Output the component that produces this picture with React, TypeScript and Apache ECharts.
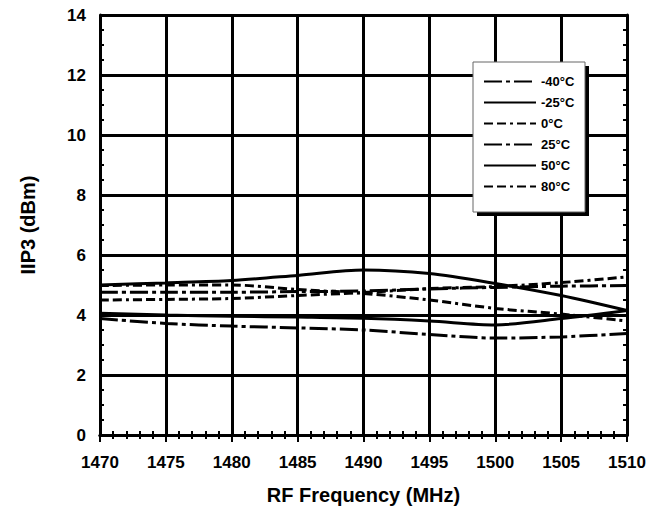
import React, { useEffect, useRef } from "react";
import * as echarts from "echarts";

const freqs = [1470, 1475, 1480, 1485, 1490, 1495, 1500, 1505, 1510];
const seriesNames = ["-40°C", "-25°C", "0°C", "25°C", "50°C", "80°C"];
const m40 = [3.88, 3.72, 3.63, 3.57, 3.5, 3.35, 3.23, 3.27, 3.38];
const m25 = [4.06, 4.0, 3.96, 3.93, 3.89, 3.8, 3.67, 3.88, 4.15];
const p0 = [4.98, 5.0, 5.0, 4.85, 4.72, 4.5, 4.22, 4.03, 3.8];
const p25 = [4.76, 4.76, 4.76, 4.78, 4.8, 4.87, 4.92, 4.96, 4.98];
const p50 = [5.0, 5.07, 5.15, 5.32, 5.5, 5.38, 5.05, 4.65, 4.15];
const p80 = [4.5, 4.52, 4.55, 4.65, 4.75, 4.88, 4.95, 5.08, 5.27];
const yTicks = [0, 2, 4, 6, 8, 10, 12, 14];

const dashDot = [18, 4, 4, 4];
const dashDots = [9, 4, 9, 4, 3, 4];

export default function App() {
  const ref = useRef<HTMLDivElement>(null);
  useEffect(() => {
    if (!ref.current) return;
    const chart = echarts.init(ref.current, null, { renderer: "svg" });
    const font = "'Liberation Sans', Arial, sans-serif";
    const values = [m40, m25, p0, p25, p50, p80];
    const types: any[] = [dashDot, "solid", dashDots, dashDot, "solid", dashDots];
    const series = values.map((v, i) => ({
      name: seriesNames[i],
      type: "line",
      data: freqs.map((f, j) => [f, v[j]]),
      smooth: 0.3,
      showSymbol: false,
      symbol: "none",
      lineStyle: { color: "#000", width: 3, type: types[i] },
      itemStyle: { color: "#000" },
      z: 3,
    }));
    const tickCommon = {
      show: true,
      inside: true,
      length: 7,
      lineStyle: { color: "#000", width: 2 },
    };
    const minorCommon = {
      show: true,
      length: 4,
      lineStyle: { color: "#000", width: 2 },
    };
    chart.setOption({
      animation: false,
      backgroundColor: "#fff",
      grid: { left: 100, right: 39, top: 15, bottom: 76 },
      xAxis: [
        {
          type: "value",
          min: 1470,
          max: 1510,
          interval: 5,
          name: "RF Frequency (MHz)",
          nameLocation: "middle",
          nameGap: 50,
          nameTextStyle: { fontFamily: font, fontWeight: "bold", fontSize: 20, color: "#000" },
          axisLine: { show: true, lineStyle: { color: "#000", width: 3 } },
          axisTick: tickCommon,
          minorTick: { ...minorCommon, splitNumber: 5 },
          splitLine: { show: true, lineStyle: { color: "#000", width: 3 } },
          axisLabel: {
            fontFamily: font, fontWeight: "bold", fontSize: 17, color: "#000", margin: 19,
            formatter: (v: number) => String(v),
          },
        },
        {
          type: "value",
          position: "top",
          min: 1470,
          max: 1510,
          interval: 5,
          axisLine: { show: true, lineStyle: { color: "#000", width: 3 } },
          axisTick: tickCommon,
          minorTick: { ...minorCommon, splitNumber: 5 },
          splitLine: { show: false },
          axisLabel: { show: false },
        },
      ],
      yAxis: [
        {
          type: "value",
          min: yTicks[0],
          max: yTicks[yTicks.length - 1],
          interval: 2,
          name: "IIP3 (dBm)",
          nameLocation: "middle",
          nameGap: 62,
          nameTextStyle: { fontFamily: font, fontWeight: "bold", fontSize: 20, color: "#000" },
          axisLine: { show: true, lineStyle: { color: "#000", width: 3 } },
          axisTick: tickCommon,
          minorTick: { ...minorCommon, splitNumber: 4 },
          splitLine: { show: true, lineStyle: { color: "#000", width: 3 } },
          axisLabel: { fontFamily: font, fontWeight: "bold", fontSize: 17, color: "#000", margin: 14 },
        },
        {
          type: "value",
          position: "right",
          min: 0,
          max: 14,
          interval: 2,
          axisLine: { show: true, lineStyle: { color: "#000", width: 3 } },
          axisTick: tickCommon,
          minorTick: { ...minorCommon, splitNumber: 4 },
          splitLine: { show: false },
          axisLabel: { show: false },
        },
      ],
      legend: {
        orient: "vertical",
        left: 474,
        top: 64,
        padding: [11, 6, 11, 9],
        itemWidth: 52,
        itemHeight: 14,
        itemGap: 8,
        data: seriesNames,
        itemStyle: { opacity: 0 },
        textStyle: { fontFamily: font, fontWeight: "bold", fontSize: 13, color: "#000", padding: [0, 0, 0, 0] },
        z: 10,
      },
      graphic: [
        { type: "rect", shape: { x: 477, y: 66, width: 112, height: 150 }, style: { fill: "#000" }, z: 8, silent: true },
        { type: "rect", shape: { x: 473, y: 62, width: 112, height: 150 }, style: { fill: "#fff", stroke: "#666", lineWidth: 1 }, z: 9, silent: true },
      ],
      series,
    });
    return () => chart.dispose();
  }, []);
  return <div ref={ref} style={{ position: "absolute", left: 0, top: 0, width: 666, height: 511 }} />;
}
